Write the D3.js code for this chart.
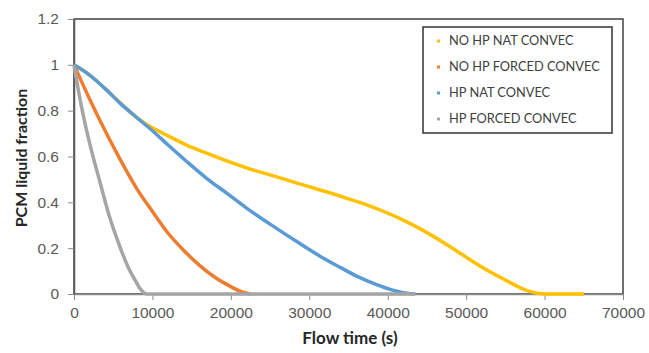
<!DOCTYPE html>
<html>
<head>
<meta charset="utf-8">
<script src="https://cdn.jsdelivr.net/npm/d3@7"></script>
<style>
  body { margin: 0; background: #fff; }
  svg { display: block; font-family: Lato, "Open Sans", sans-serif; }
</style>
</head>
<body>
<div id="chart"></div>
<script>
// series: [flow time (s), liquid fraction]
const noHpNat = [[0,1.0],[2000,0.955],[4000,0.895],[5860,0.835],[8000,0.77],[10110,0.723],[12000,0.69],[14370,0.65],[16500,0.62],[18620,0.592],[20700,0.566],[22860,0.541],[25000,0.52],[27120,0.498],[29200,0.476],[31370,0.454],[33500,0.432],[35500,0.41],[37500,0.387],[39500,0.36],[41500,0.33],[43500,0.296],[45500,0.258],[47500,0.216],[49500,0.172],[51500,0.128],[53500,0.088],[55500,0.052],[57000,0.026],[58300,0.009],[59300,0.002],[60000,0],[65000,0]];
const noHpForced = [[0,1.0],[2000,0.85],[4000,0.71],[6000,0.58],[8000,0.46],[10000,0.36],[12000,0.265],[14000,0.19],[16000,0.125],[18000,0.072],[20000,0.032],[21500,0.008],[22500,0]];
const hpNat = [[0,1.0],[2000,0.955],[4000,0.895],[5860,0.833],[8000,0.77],[10110,0.709],[12000,0.65],[14370,0.578],[16900,0.505],[19470,0.44],[22000,0.375],[25000,0.305],[28800,0.22],[31370,0.165],[34000,0.115],[36040,0.078],[38500,0.042],[40500,0.018],[42000,0.006],[43500,0]];
const hpForced = [[0,1.0],[500,0.9],[1000,0.81],[1700,0.7],[2500,0.59],[3300,0.49],[4500,0.34],[5870,0.205],[7000,0.11],[7800,0.06],[8500,0.02],[9300,0],[43500,0]];

const seriesNames = ["NO HP NAT CONVEC", "NO HP FORCED CONVEC", "HP NAT CONVEC", "HP FORCED CONVEC"];
const seriesColors = ["#FFC000", "#ED7D31", "#5B9BD5", "#A5A5A5"];
const seriesData = [noHpNat, noHpForced, hpNat, hpForced];

const xTicks = [0, 10000, 20000, 30000, 40000, 50000, 60000, 70000];
const yTicks = [0, 0.2, 0.4, 0.6, 0.8, 1, 1.2];

const width = 649, height = 353;
const plot = {left: 74, right: 623, top: 19, bottom: 294};

const svg = d3.select("#chart").append("svg")
  .attr("width", width)
  .attr("height", height);

const x = d3.scaleLinear().domain([0, 70000]).range([plot.left, plot.right]);
const y = d3.scaleLinear().domain([0, 1.2]).range([plot.bottom, plot.top]);

// plot frame
svg.append("rect")
  .attr("x", plot.left).attr("y", plot.top)
  .attr("width", plot.right - plot.left).attr("height", plot.bottom - plot.top)
  .attr("fill", "none").attr("stroke", "#404040").attr("stroke-width", 1.5);

// axes
const xAxis = svg.append("g")
  .attr("transform", `translate(0,${plot.bottom})`)
  .call(d3.axisBottom(x).tickValues(xTicks).tickSize(6).tickSizeOuter(0).tickFormat(d3.format("d")));
xAxis.select(".domain").attr("stroke", "#8c8c8c").attr("stroke-width", 1.5);
xAxis.selectAll(".tick line").attr("stroke", "#8c8c8c");
xAxis.selectAll(".tick text").attr("fill", "#595959").attr("font-size", 15.5).attr("dy", "0.95em");

const yAxis = svg.append("g")
  .attr("transform", `translate(${plot.left},0)`)
  .call(d3.axisLeft(y).tickValues(yTicks).tickSize(6).tickSizeOuter(0).tickFormat(d => d3.format("")(+d.toFixed(1))));
yAxis.select(".domain").attr("stroke", "#595959").attr("stroke-width", 1.5);
yAxis.selectAll(".tick line").attr("stroke", "#8c8c8c");
yAxis.selectAll(".tick text").attr("fill", "#595959").attr("font-size", 15.5).attr("x", -15);

// lines
const line = d3.line().x(d => x(d[0])).y(d => y(d[1])).curve(d3.curveMonotoneX);
seriesData.forEach((data, i) => {
  svg.append("path")
    .datum(data)
    .attr("fill", "none")
    .attr("stroke", seriesColors[i])
    .attr("stroke-width", 3.5)
    .attr("stroke-linejoin", "round")
    .attr("d", line);
});

// axis titles
svg.append("text")
  .attr("x", 350).attr("y", 344)
  .attr("text-anchor", "middle")
  .attr("font-size", 17).attr("font-weight", "bold").attr("fill", "#262626")
  .text("Flow time (s)");

svg.append("text")
  .attr("transform", "translate(27,158) rotate(-90)")
  .attr("text-anchor", "middle")
  .attr("font-size", 16).attr("font-weight", "bold").attr("fill", "#262626")
  .text("PCM liquid fraction");

// legend
const legend = svg.append("g");
legend.append("rect")
  .attr("x", 423).attr("y", 27).attr("width", 189).attr("height", 106)
  .attr("fill", "#fff").attr("stroke", "#333").attr("stroke-width", 1.5);

seriesNames.forEach((name, i) => {
  const ly = 41 + i * 26;
  legend.append("rect")
    .attr("x", 437).attr("y", ly - 1.5).attr("width", 3).attr("height", 3)
    .attr("fill", seriesColors[i]);
  legend.append("text")
    .attr("x", 449).attr("y", ly).attr("dy", "0.35em")
    .attr("font-size", 12.8).attr("fill", "#404040")
    .text(name);
});
</script>
</body>
</html>
